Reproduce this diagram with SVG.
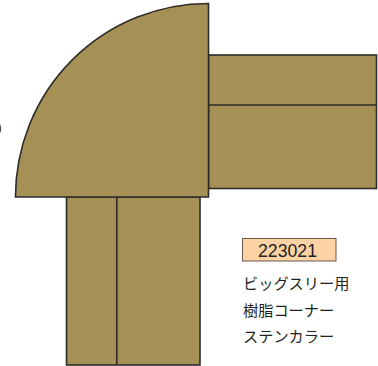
<svg xmlns="http://www.w3.org/2000/svg" width="378" height="366" viewBox="0 0 378 366">
<style>
.p{fill:#a59156;stroke:#2e2b28;stroke-width:1.6}
.t{font-family:"Liberation Sans","Noto Sans CJK JP",sans-serif;fill:#231f20}
.j{font-size:15.2px}
</style>
<rect width="378" height="366" fill="#fff"/>
<g id="right-panel"><rect class="p" x="208.5" y="55" width="168" height="133.5"/><path class="p" d="M208.5 105H376.5"/></g>
<g id="bottom-panel"><rect class="p" x="66.5" y="197" width="133.5" height="168"/><path class="p" d="M116.8 197V365"/></g>
<g id="corner"><path class="p" d="M15.5 197A193 193.500 0 0 1 208.500 3.500V197Z"/></g>
<g id="mark"><path d="M0 124Q2.500 128.500 0 133.500Z" fill="#55524f"/></g>
<g id="label"><rect x="242.500" y="238.500" width="93.500" height="22.500" fill="#fdd2a4" stroke="#6b5a4a" stroke-width="1"/><text class="t" x="287.500" y="256.500" font-size="17.700" text-anchor="middle">223021</text></g>
<g id="caption"><text class="t j" x="243" y="289">ビッグスリー用</text><text class="t j" x="243" y="316">樹脂コーナー</text><text class="t j" x="243" y="342">ステンカラー</text></g>
</svg>
